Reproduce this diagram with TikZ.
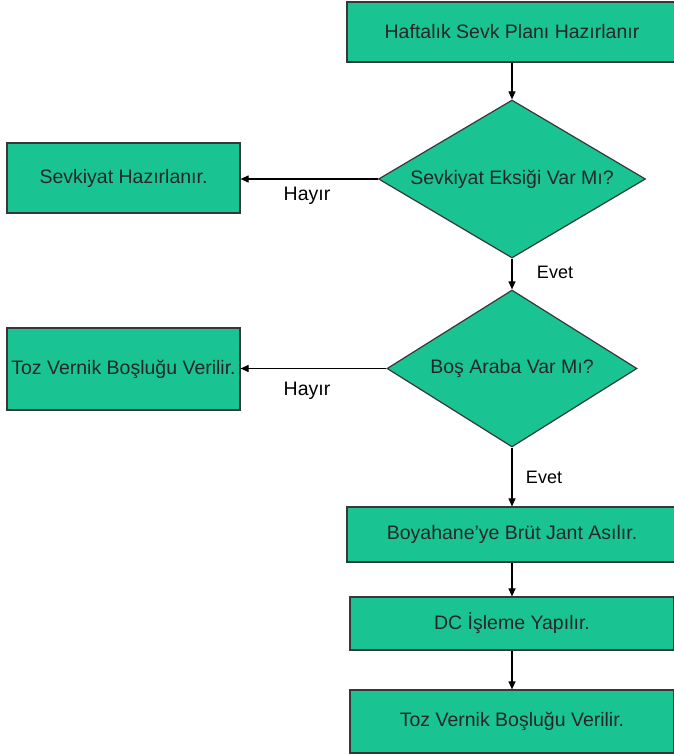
\documentclass[tikz,border=0pt]{standalone}
\usepackage{fontspec}
\setmainfont{Liberation Sans}
\usetikzlibrary{shapes.geometric,arrows.meta}
\definecolor{boxgreen}{RGB}{26,196,146}
\definecolor{edgegray}{RGB}{55,55,55}

\begin{document}
\begin{tikzpicture}[x=1pt,y=-1pt,
  proc/.style={draw=edgegray,line width=1.2pt,fill=boxgreen,inner sep=0pt,
    text=black!85,font=\fontsize{19.5}{22}\selectfont},
  decision/.style={diamond,draw=edgegray,line width=1.2pt,fill=boxgreen,inner sep=0pt,
    text=black!85,font=\fontsize{19.5}{22}\selectfont},
  flow/.style={line width=1.1pt,-{Triangle[length=8pt,width=7pt]}},
  lbl/.style={font=\fontsize{19.5}{22}\selectfont}]
  \useasboundingbox (0,0) rectangle (674,755);

  % main column
  \node[proc,minimum width=330pt,minimum height=60pt] (plan) at (512,32) {Haftal{\i}k Sevk Plan{\i} Haz{\i}rlan{\i}r};
  \node[decision,minimum width=267pt,minimum height=158pt] (eksik) at (512,179) {\makebox[0pt]{Sevkiyat Eksiği Var M{\i}?}};
  \node[decision,minimum width=250pt,minimum height=157pt] (araba) at (512,368.5) {\makebox[0pt]{Boş Araba Var M{\i}?}};
  \node[proc,minimum width=330pt,minimum height=55pt] (boya) at (512,534.5) {Boyahane'ye Brüt Jant As{\i}l{\i}r.};
  \node[proc,minimum width=324pt,minimum height=53pt] (dc) at (512,623.5) {DC İşleme Yap{\i}l{\i}r.};
  \node[proc,minimum width=324pt,minimum height=63pt] (vernik) at (512,721.5) {Toz Vernik Boşluğu Verilir.};

  % side boxes
  \node[proc,minimum width=233pt,minimum height=70pt] (sevk) at (123.5,178) {Sevkiyat Haz{\i}rlan{\i}r.};
  \node[proc,minimum width=233pt,minimum height=82pt] (bosluk) at (123.5,369) {Toz Vernik Boşluğu Verilir.};

  \draw[flow] (plan) -- (eksik);
  \draw[flow] (eksik) -- (araba);
  \draw[flow] (araba) -- (boya);
  \draw[flow] (boya) -- (dc);
  \draw[flow] (dc) -- (vernik);
  \draw[flow] (eksik.west) -- (eksik.west -| sevk.east);
  \draw[flow] (araba.west) -- (araba.west -| bosluk.east);

  \node[lbl] (hayir1) at (307,196) {Hay{\i}r};
  \node[lbl] (hayir2) at (307,391) {Hay{\i}r};
  \node[lbl,font=\fontsize{18}{20}\selectfont] (evet1) at (555,272) {Evet};
  \node[lbl,font=\fontsize{18}{20}\selectfont] (evet2) at (544,477) {Evet};
\end{tikzpicture}
\end{document}
